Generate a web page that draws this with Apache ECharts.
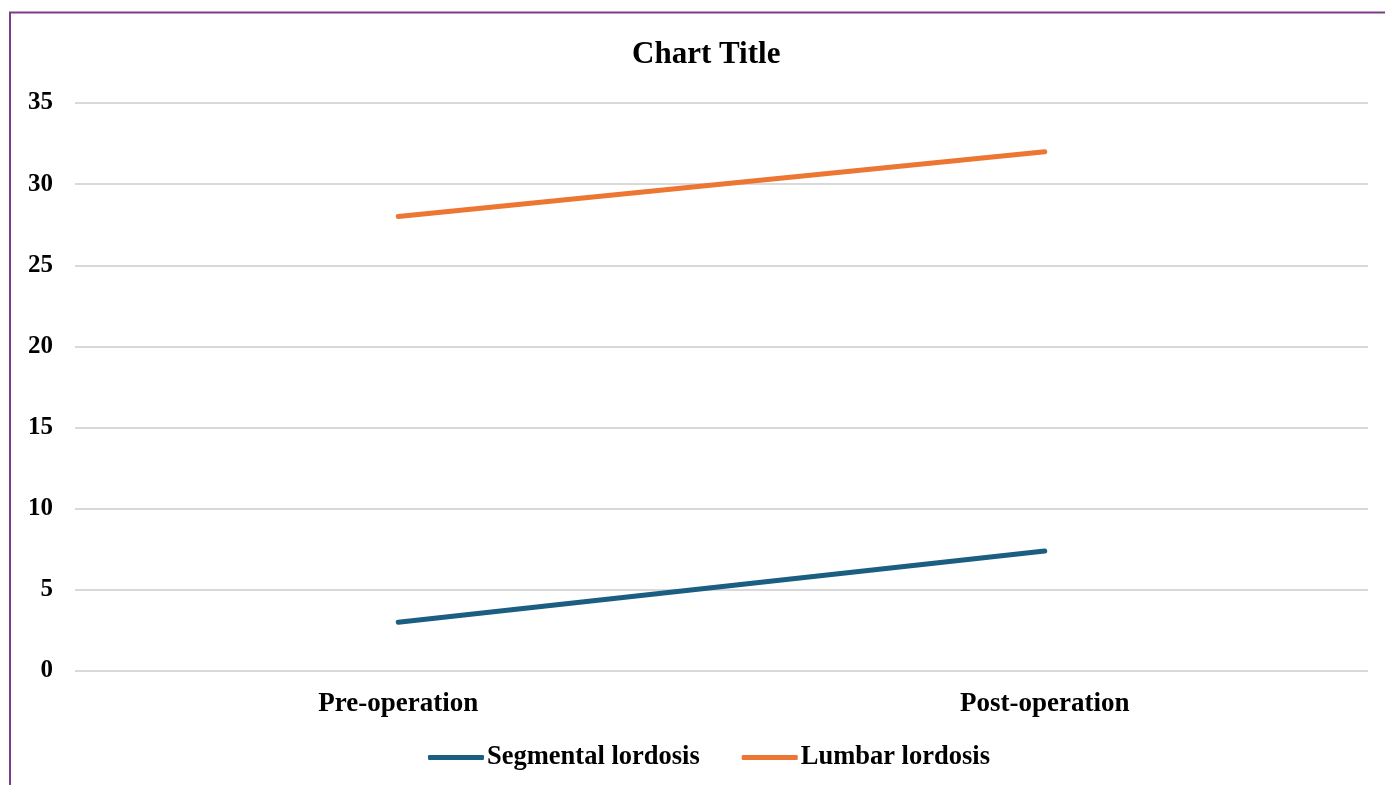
<!DOCTYPE html>
<html>
<head>
<meta charset="utf-8">
<script src="https://cdn.jsdelivr.net/npm/echarts@6/dist/echarts.min.js"></script>
<style>
  html, body { margin: 0; padding: 0; background: #fff; }
  #chart { width: 1385px; height: 785px; }
</style>
</head>
<body>
<div id="chart"></div>
<script>
// Lordosis angles before and after surgery
const categories = ['Pre-operation', 'Post-operation'];
const segmentalLordosis = [3, 7.4];
const lumbarLordosis = [28, 32];
const seriesNames = ['Segmental lordosis', 'Lumbar lordosis'];
const seriesColors = ['#1A5E82', '#ED7633'];

const FONT = '"Liberation Serif", "Times New Roman", serif';
const chart = echarts.init(document.getElementById('chart'));

chart.setOption({
  backgroundColor: '#fff',
  animation: false,
  title: {
    text: 'Chart Title',
    left: 627,
    top: 34,
    textStyle: { fontFamily: FONT, fontWeight: 'bold', fontSize: 31, color: '#000' }
  },
  graphic: [{
    type: 'rect',
    shape: { x: 10, y: 12.5, width: 1400, height: 800 },
    style: { fill: 'none', stroke: '#7D3C8A', lineWidth: 2 },
    silent: true
  }],
  legend: {
    bottom: 9,
    left: 423,
    icon: 'roundRect',
    itemWidth: 56,
    itemHeight: 5,
    itemGap: 42,
    textStyle: { fontFamily: FONT, fontWeight: 'bold', fontSize: 26.5, color: '#000', padding: [0, 0, 0, -2] },
    data: seriesNames
  },
  grid: { left: 75, right: 17, top: 103, bottom: 114 },
  xAxis: {
    type: 'category',
    data: categories,
    boundaryGap: true,
    axisLine: { show: false },
    axisTick: { show: false },
    axisLabel: { fontFamily: FONT, fontWeight: 'bold', fontSize: 27, color: '#000', margin: 20 }
  },
  yAxis: {
    type: 'value',
    min: 0,
    max: 35,
    interval: 5,
    axisLine: { show: false },
    axisTick: { show: false },
    axisLabel: { fontFamily: FONT, fontWeight: 'bold', fontSize: 25, color: '#000', margin: 22 },
    splitLine: { lineStyle: { color: '#d9d9d9', width: 2 } }
  },
  series: [
    {
      name: seriesNames[0],
      type: 'line',
      data: segmentalLordosis,
      symbol: 'none',
      color: seriesColors[0],
      lineStyle: { width: 5, color: seriesColors[0], cap: 'round' }
    },
    {
      name: seriesNames[1],
      type: 'line',
      data: lumbarLordosis,
      symbol: 'none',
      color: seriesColors[1],
      lineStyle: { width: 5, color: seriesColors[1], cap: 'round' }
    }
  ]
});
</script>
</body>
</html>
